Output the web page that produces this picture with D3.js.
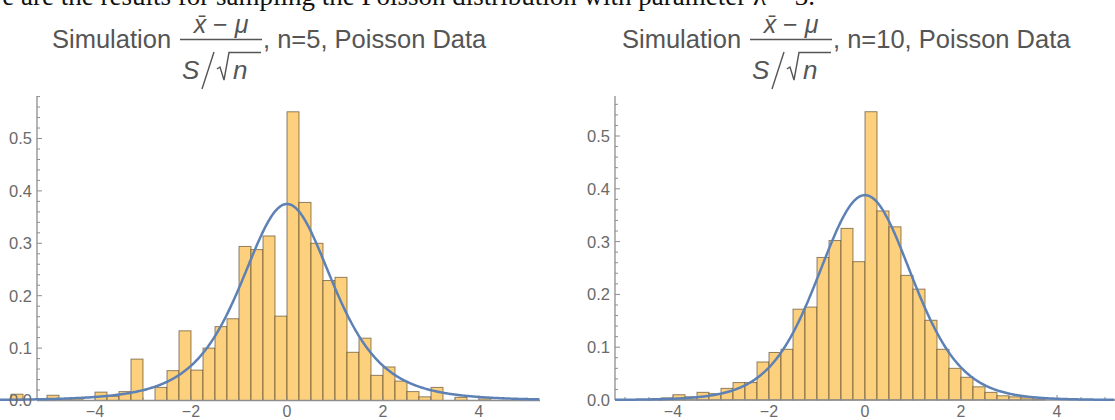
<!DOCTYPE html>
<html>
<head>
<meta charset="utf-8">
<script src="https://cdn.jsdelivr.net/npm/d3@7"></script>
<style>
  body { margin: 0; background: #fff; }
  svg { display: block; }
</style>
</head>
<body>
<svg id="container" width="1115" height="420"></svg>
<script>
(function (d3) {
  'use strict';

  // histogram heights, bins of width 0.25 starting at binStart
  const binWidth = 0.25;
  const binStartN5 = -5.75;
  const densityN5 = [
    0.012, 0, 0, 0.010, 0.003, 0.003, 0, 0.016, 0.008, 0.017,
    0.079, 0, 0.025, 0.057, 0.133, 0.058, 0.100, 0.141, 0.156, 0.294,
    0.288, 0.314, 0.161, 0.551, 0.378, 0.300, 0.229, 0.235, 0.092, 0.119,
    0.048, 0.064, 0.037, 0.017, 0.007, 0.025, 0, 0.006, 0, 0.003
  ];
  const binStartN10 = -4.5;
  const densityN10 = [
    0.002, 0.004, 0.010, 0.006, 0.0145, 0.012, 0.022, 0.033, 0.033, 0.072,
    0.090, 0.096, 0.172, 0.176, 0.270, 0.302, 0.325, 0.262, 0.546, 0.358,
    0.328, 0.236, 0.210, 0.151, 0.096, 0.060, 0.043, 0.025, 0.0145, 0.008,
    0.006, 0.004, 0.002
  ];
  const sampleSizes = [5, 10];
  const xTicks = [-4, -2, 0, 2, 4];
  const yTicks = [0, 0.1, 0.2, 0.3, 0.4, 0.5];

  const BAR_FILL = '#fdd07e';
  const BAR_EDGE = 'rgba(70,55,30,0.6)';
  const CURVE = '#5e81b5';
  const AXIS = '#8e8e8e';
  const LABEL = '#6a6a6a';
  const TITLE = '#555555';
  const FONT = '"Liberation Sans", Arial, sans-serif';

  const svg = d3.select('#container');

  // Lanczos gamma, used for the Student t density
  const gamma = (z) => {
    const g = 7;
    const c = [0.99999999999980993, 676.5203681218851, -1259.1392167224028,
      771.32342877765313, -176.61502916214059, 12.507343278686905,
      -0.13857109526572012, 9.9843695780195716e-6, 1.5056327351493116e-7];
    if (z < 0.5) return Math.PI / (Math.sin(Math.PI * z) * gamma(1 - z));
    z -= 1;
    let a = c[0];
    const t = z + g + 0.5;
    for (let i = 1; i < g + 2; i++) a += c[i] / (z + i);
    return Math.sqrt(2 * Math.PI) * Math.pow(t, z + 0.5) * Math.exp(-t) * a;
  };
  const tPdf = (nu) => {
    const k = gamma((nu + 1) / 2) / (Math.sqrt(nu * Math.PI) * gamma(nu / 2));
    return (t) => k * Math.pow(1 + t * t / nu, -(nu + 1) / 2);
  };

  // sentence above the plots, cut off by the top edge like in the source
  svg.append('text')
    .attr('x', 815).attr('y', 5)
    .attr('text-anchor', 'end')
    .style('font-family', '"Liberation Serif", "Times New Roman", serif')
    .style('font-size', '27px')
    .attr('fill', '#111')
    .text('Here are the results for sampling the Poisson distribution with parameter \u03bb = 3.');

  const drawTitle = (dx, n) => {
    const g = svg.append('g')
      .attr('transform', `translate(${dx},0)`)
      .style('font-family', FONT)
      .attr('fill', TITLE);
    g.append('text').attr('x', 52).attr('y', 48)
      .style('font-size', '25.5px').text('Simulation');
    // numerator
    const num = g.append('text').attr('x', 221).attr('y', 33)
      .attr('text-anchor', 'middle').style('font-size', '25px');
    num.append('tspan').style('font-style', 'italic').text('x\u0304');
    num.append('tspan').text(' \u2212 ');
    num.append('tspan').style('font-style', 'italic').text('\u03bc');
    g.append('line').attr('x1', 180).attr('x2', 262)
      .attr('y1', 39.5).attr('y2', 39.5)
      .attr('stroke', TITLE).attr('stroke-width', 1.3);
    // denominator S / sqrt(n)
    g.append('text').attr('x', 182).attr('y', 78.5)
      .style('font-size', '26px').style('font-style', 'italic').text('S');
    g.append('line').attr('x1', 214).attr('y1', 52).attr('x2', 202).attr('y2', 89)
      .attr('stroke', TITLE).attr('stroke-width', 1.4);
    g.append('path')
      .attr('d', 'M217,69 L220,67 L224,80 L229,52.5 L261,52.5')
      .attr('fill', 'none').attr('stroke', TITLE).attr('stroke-width', 1.4);
    g.append('text').attr('x', 233).attr('y', 78.5)
      .style('font-size', '26px').style('font-style', 'italic').text('n');
    g.append('text').attr('x', 263).attr('y', 48)
      .style('font-size', '25.5px').text(`, n=${n}, Poisson Data`);
  };

  const drawPanel = (cfg) => {
    const x = d3.scaleLinear().domain(cfg.xDomain).range(cfg.xRange);
    const y = d3.scaleLinear().domain([0, 0.5]).range(cfg.yRange);
    const g = svg.append('g');

    const bins = cfg.values.map((v, i) => ({
      x0: cfg.start + i * binWidth,
      x1: cfg.start + (i + 1) * binWidth,
      v
    })).filter((b) => b.v > 0);

    g.selectAll('rect.bar')
      .data(bins)
      .enter()
      .append('rect')
      .attr('class', 'bar')
      .attr('x', (b) => x(b.x0))
      .attr('width', (b) => x(b.x1) - x(b.x0))
      .attr('y', (b) => y(b.v))
      .attr('height', (b) => y(0) - y(b.v))
      .attr('fill', BAR_FILL)
      .attr('stroke', BAR_EDGE)
      .attr('stroke-width', 1);

    // axes
    const yTop = y.invert(96);
    const x0px = cfg.xRange[0];
    g.append('line')
      .attr('x1', x0px).attr('x2', cfg.xRange[1])
      .attr('y1', y(0)).attr('y2', y(0))
      .attr('stroke', AXIS).attr('stroke-width', 1.3);
    g.append('line')
      .attr('x1', x0px).attr('x2', x0px)
      .attr('y1', y(0)).attr('y2', y(yTop))
      .attr('stroke', AXIS).attr('stroke-width', 1.3);

    // y ticks: major every 0.1, minor every 0.02
    const yMinor = d3.range(0, yTop, 0.02);
    g.selectAll('line.ym')
      .data(yMinor)
      .enter()
      .append('line')
      .attr('x1', x0px)
      .attr('x2', (v) => x0px + (Math.abs(v * 10 - Math.round(v * 10)) < 1e-6 ? 5 : 3))
      .attr('y1', (v) => y(v)).attr('y2', (v) => y(v))
      .attr('stroke', AXIS).attr('stroke-width', 1);

    // x ticks: major every 2, minor every 0.5
    const xMinor = d3.range(Math.ceil(cfg.xDomain[0] * 2) / 2, cfg.xDomain[1], 0.5);
    g.selectAll('line.xm')
      .data(xMinor)
      .enter()
      .append('line')
      .attr('x1', (v) => x(v)).attr('x2', (v) => x(v))
      .attr('y1', y(0))
      .attr('y2', (v) => y(0) - (Math.abs(v / 2 - Math.round(v / 2)) < 1e-6 ? 5 : 3))
      .attr('stroke', AXIS).attr('stroke-width', 1);

    // density curve
    const f = tPdf(cfg.n - 1);
    const pts = d3.range(cfg.curveFrom, cfg.xDomain[1] + 0.001, 0.02);
    g.append('path')
      .datum(pts)
      .attr('fill', 'none')
      .attr('stroke', CURVE)
      .attr('stroke-width', 2.5)
      .attr('d', d3.line().x((t) => x(t)).y((t) => y(f(t))));

    // labels
    g.selectAll('text.yl')
      .data(yTicks)
      .enter()
      .append('text')
      .attr('x', x0px - 5)
      .attr('y', (v) => y(v))
      .attr('dy', '0.36em')
      .attr('text-anchor', 'end')
      .style('font-family', FONT).style('font-size', '16.5px')
      .attr('fill', LABEL)
      .text((v) => d3.format('.1f')(v));

    g.selectAll('text.xl')
      .data(xTicks)
      .enter()
      .append('text')
      .attr('x', (v) => x(v))
      .attr('y', 417)
      .attr('text-anchor', 'middle')
      .style('font-family', FONT).style('font-size', '16px')
      .attr('fill', LABEL)
      .text((v) => (v < 0 ? '\u2212' + Math.abs(v) : String(v)));
  };

  drawTitle(0, sampleSizes[0]);
  drawTitle(570, sampleSizes[1]);

  drawPanel({
    n: sampleSizes[0], values: densityN5, start: binStartN5,
    xDomain: [-5.2083, 5.2708], xRange: [37, 540],
    yRange: [400.5, 138.5], curveFrom: -6.0
  });
  drawPanel({
    n: sampleSizes[1], values: densityN10, start: binStartN10,
    xDomain: [-5.2083, 5.2083], xRange: [615, 1115],
    yRange: [400, 136], curveFrom: -5.2083
  });
}(d3));
</script>
</body>
</html>
